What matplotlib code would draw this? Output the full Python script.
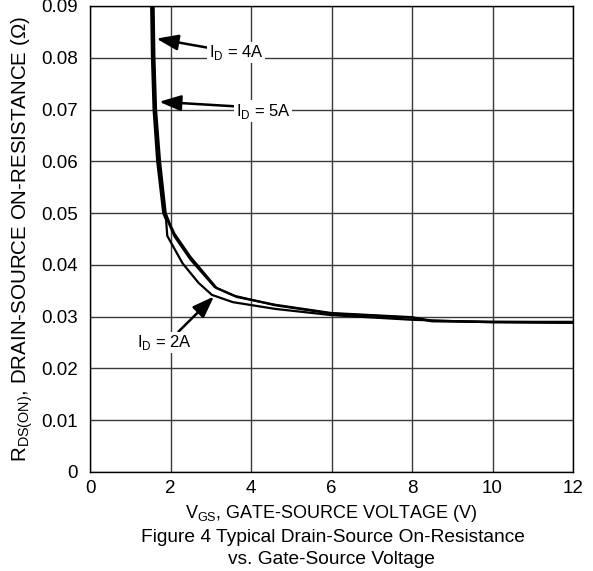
import numpy as np
import matplotlib.pyplot as plt

plt.rcParams['font.family'] = ['Liberation Sans', 'DejaVu Sans']

# curves: V_GS (V) vs R_DS(on) (ohm)
vgs_2a = [1.52, 1.54, 1.58, 1.67, 1.82, 1.89, 1.92, 2.30, 2.70, 3.03, 3.55, 4.60, 6.00, 8.00, 10.0, 12.0]
rds_2a = [0.090, 0.080, 0.070, 0.060, 0.050, 0.0487, 0.0456, 0.0403, 0.0365, 0.0342, 0.0328, 0.0315, 0.0303, 0.0294, 0.0289, 0.0288]

vgs_4a = [1.55, 1.57, 1.61, 1.70, 1.86, 1.96, 2.10, 2.50, 3.10, 3.60, 4.60, 6.00, 8.00, 8.50, 10.0, 12.0]
rds_4a = [0.090, 0.080, 0.070, 0.060, 0.050, 0.0480, 0.0455, 0.0410, 0.0357, 0.0340, 0.0322, 0.0306, 0.0298, 0.0291, 0.0290, 0.0289]

vgs_5a = [1.58, 1.60, 1.64, 1.74, 1.88, 1.98, 2.10, 2.50, 3.15, 3.65, 4.60, 6.00, 8.00, 8.50, 10.0, 12.0]
rds_5a = [0.090, 0.080, 0.070, 0.060, 0.050, 0.0480, 0.0460, 0.0415, 0.0355, 0.0338, 0.0323, 0.0307, 0.0299, 0.0292, 0.0290, 0.0290]

xticks = [0, 2, 4, 6, 8, 10, 12]
yticks = [0, 0.01, 0.02, 0.03, 0.04, 0.05, 0.06, 0.07, 0.08, 0.09]
ytick_labels = ['0', '0.01', '0.02', '0.03', '0.04', '0.05', '0.06', '0.07', '0.08', '0.09']

fig = plt.figure(figsize=(5.93, 5.71), dpi=100)
ax = fig.add_axes([90/593, 99/571, 483/593, 466/571])

for v, r in [(vgs_2a, rds_2a), (vgs_4a, rds_4a), (vgs_5a, rds_5a)]:
    ax.plot(v, r, color='black', lw=1.6, zorder=3)

ax.set_xlim(0, 12)
ax.set_ylim(0, 0.09)
ax.set_xticks(xticks)
ax.set_yticks(yticks)
ax.set_yticklabels(ytick_labels)
ax.tick_params(length=0, labelsize=13.5, colors='black')
ax.tick_params(axis='x', pad=6)
ax.tick_params(axis='y', pad=9)
ax.grid(True, color='#3a3a3a', lw=1.0)
ax.set_axisbelow(True)
for s in ax.spines.values():
    s.set_color('black')
    s.set_linewidth(1.0)

ax.set_xlabel(r'V$_{\mathregular{GS}}$, GATE-SOURCE VOLTAGE (V)', fontsize=13, labelpad=4)
ax.set_ylabel(r'R$_{\mathregular{DS(ON)}}$, DRAIN-SOURCE ON-RESISTANCE ($\mathregular{\Omega}$)',
              fontsize=14.8, labelpad=4)

fig.text(333/593, 1 - 537/571, 'Figure 4 Typical Drain-Source On-Resistance',
         ha='center', va='center', fontsize=13.8)
fig.text(331/593, 1 - 559/571, 'vs. Gate-Source Voltage',
         ha='center', va='center', fontsize=13.8)

arrow = dict(arrowstyle='-|>,head_length=1.1,head_width=0.4', color='black', lw=1.8,
             shrinkA=0, shrinkB=0)
box = dict(facecolor='white', edgecolor='none', pad=1)

ax.annotate(r'I$_{\mathregular{D}}$ = 4A', xy=(1.65, 0.0837), xytext=(2.95, 0.0810),
            fontsize=12, ha='left', va='center', bbox=box, arrowprops=dict(arrow, relpos=(0, 0.75)),
            zorder=5)
ax.annotate(r'I$_{\mathregular{D}}$ = 5A', xy=(1.72, 0.0715), xytext=(3.62, 0.0697),
            fontsize=12, ha='left', va='center', bbox=box, arrowprops=dict(arrow, relpos=(0, 0.75)),
            zorder=5)
ax.annotate(r'I$_{\mathregular{D}}$ = 2A', xy=(3.08, 0.0339), xytext=(1.18, 0.0250),
            fontsize=12, ha='left', va='center', bbox=box, arrowprops=dict(arrow, relpos=(0.72, 1.0)),
            zorder=5)

fig.savefig('out.png', dpi=100)
